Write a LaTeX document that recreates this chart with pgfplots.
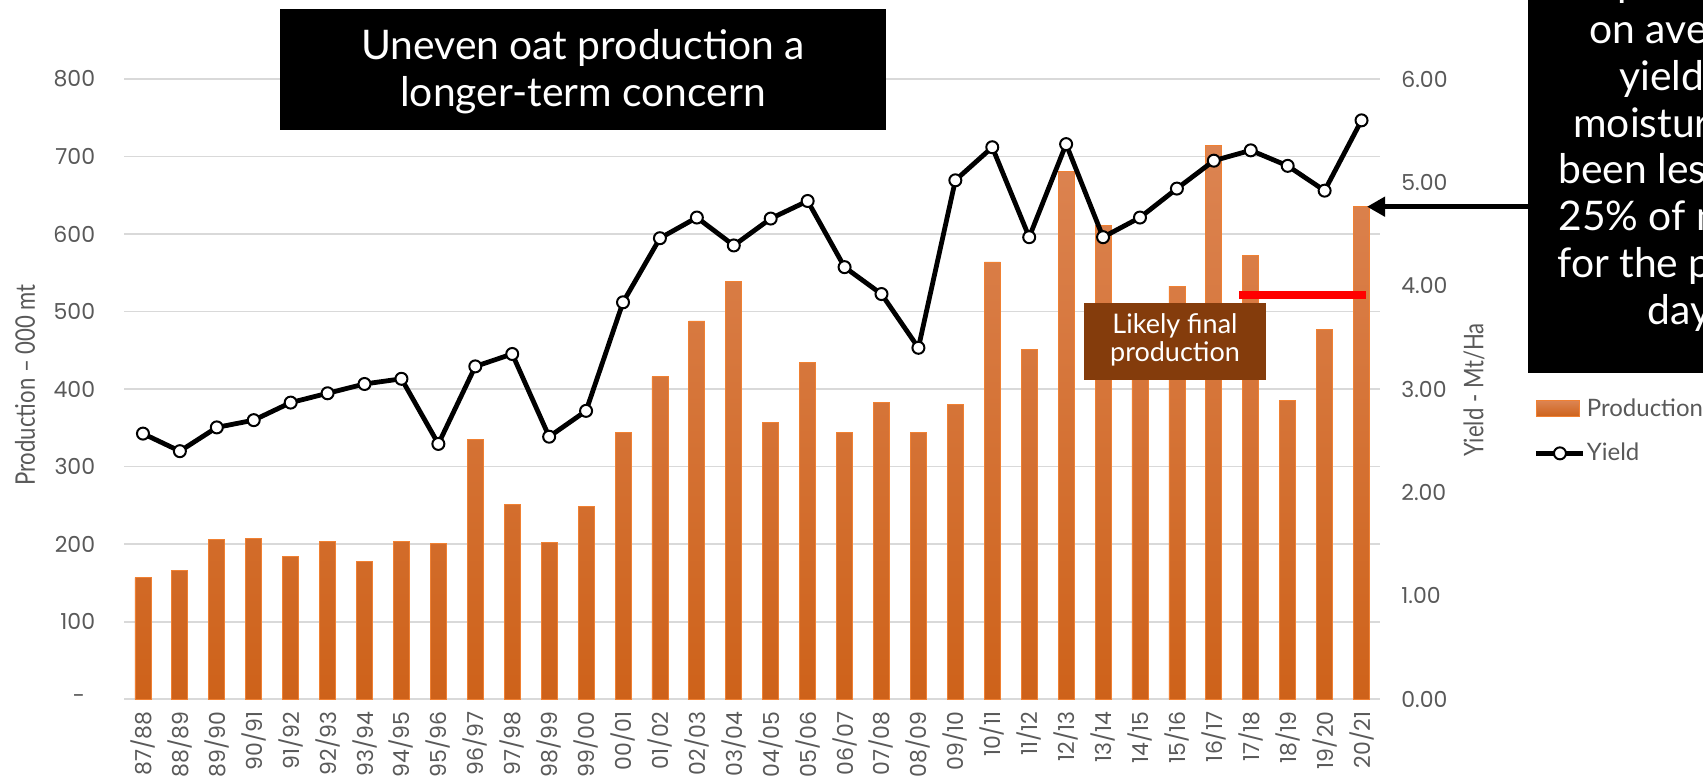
\documentclass[border=0pt]{standalone}
\usepackage{fontspec}
\usepackage{pgfplots}
\usepackage{pgfplotstable}
\pgfplotsset{compat=1.18}
\usetikzlibrary{arrows.meta}
\setmainfont{Lato}
\newfontfamily\tickfont{Poppins}
\newfontfamily\condfont[FakeStretch=0.82]{Lato}

\definecolor{txtgray}{HTML}{595959}
\definecolor{gridgray}{HTML}{D9D9D9}
\definecolor{bartop}{RGB}{220,132,82}
\definecolor{barbot}{RGB}{206,98,26}
\definecolor{baredge}{RGB}{240,128,50}
\definecolor{boxbrown}{HTML}{843C0C}

% season index, production (000 mt), yield (Mt/Ha)
\pgfplotstableread{
idx prod yield
0  157 2.57
1  166 2.40
2  206 2.63
3  208 2.70
4  184 2.87
5  204 2.96
6  178 3.05
7  203 3.10
8  201 2.47
9  335 3.22
10 251 3.34
11 202 2.54
12 249 2.79
13 344 3.84
14 416 4.46
15 488 4.66
16 539 4.39
17 357 4.65
18 435 4.82
19 344 4.18
20 383 3.92
21 344 3.40
22 380 5.02
23 564 5.34
24 451 4.47
25 681 5.37
26 611 4.47
27 480 4.66
28 533 4.94
29 714 5.21
30 572 5.31
31 385 5.16
32 477 4.92
33 636 5.60
}\oats

\pgfplotsset{
  oatbase/.style={
    at={(0pt,0pt)}, anchor=south west,
    scale only axis, width=627.75pt, height=310.15pt,
    xmin=-0.5, xmax=33.5,
    axis line style={draw=none},
    major tick length=0pt,
    tick label style={font=\tickfont\fontsize{11}{13}\selectfont, text=txtgray, inner sep=0pt},
    label style={font=\condfont\fontsize{13.5}{15}\selectfont, text=txtgray},
  }
}

\begin{document}
\begin{tikzpicture}
\begin{axis}[
  oatbase,
  ymin=0, ymax=800,
  ytick={0,100,...,800},
  yticklabels={{-\kern5pt},100,200,300,400,500,600,700,800},
  yticklabel style={anchor=east, xshift=-14.5pt},
  xtick={0,...,33},
  xticklabels={87/88,88/89,89/90,90/91,91/92,92/93,93/94,94/95,95/96,96/97,97/98,98/99,99/00,00/01,01/02,02/03,03/04,04/05,05/06,06/07,07/08,08/09,09/10,10/11,11/12,12/13,13/14,14/15,15/16,16/17,17/18,18/19,19/20,20/21},
  xticklabel style={yshift=-5.9pt, rotate=90, anchor=east},
  ymajorgrids, grid style={gridgray, line width=0.8pt},
  ylabel={Production – 000 mt},
  ylabel style={at={(axis description cs:-0.0793,0.5067)}, anchor=center, rotate=0},
]
\addplot[ybar, bar width=8pt, draw=baredge, line width=0.4pt,
  top color=bartop, bottom color=barbot] table[x=idx, y=prod]{\oats};
\addplot[red, line width=4.15pt, no marks] coordinates {(29.69,521) (33.13,521)};
\end{axis}

\begin{axis}[
  oatbase,
  ymin=0, ymax=6,
  axis x line=none, axis y line*=right,
  ytick={0,1,...,6},
  yticklabels={0.00,1.00,2.00,3.00,4.00,5.00,6.00},
  yticklabel style={anchor=west, xshift=10.5pt},
  ylabel={Yield - Mt/Ha},
  ylabel style={at={(axis description cs:1.0749,0.4986)}, anchor=center, rotate=0},
  legend style={draw=none, fill=none, at={(axis description cs:1.1176,0.4325)}, anchor=west,
    font=\fontsize{12}{14}\selectfont, text=txtgray, row sep=8pt,
    cells={anchor=west}, nodes={inner xsep=0.5pt}},
]
\addlegendimage{legend image code/.code={
  \shade[top color=bartop, bottom color=barbot, draw=baredge, line width=0.4pt] (0pt,-4pt) rectangle (21.5pt,4pt);}}
\addlegendentry{Production}
\addplot[black, line width=2.4pt, mark=*, mark size=3pt,
  mark options={fill=white, draw=black, line width=1pt},
  legend image code/.code={
    \draw[black, line width=2.4pt] (0pt,0pt) -- (23.5pt,0pt);
    \draw[black, fill=white, line width=1pt] (11.75pt,0pt) circle (3pt);}
  ] table[x=idx, y=yield]{\oats};
\addlegendentry{Yield}
\end{axis}

% title box
\fill[black] (77.75pt,284.65pt) rectangle (380.75pt,345.15pt);
\node[anchor=base, text=white, inner sep=0pt, font=\fontsize{20.4}{24}\selectfont] at (229.25pt,319.9pt) {Uneven oat production a};
\node[anchor=base, text=white, inner sep=0pt, font=\fontsize{20.4}{24}\selectfont] at (229.25pt,296.45pt) {longer-term concern};

% likely final production label
\fill[boxbrown] (479.75pt,159.65pt) rectangle (570.75pt,198pt);
\node[anchor=base, text=white, inner sep=0pt, font=\fontsize{13.5}{15}\selectfont] at (525.25pt,183pt) {Likely final};
\node[anchor=base, text=white, inner sep=0pt, font=\fontsize{13.5}{15}\selectfont] at (525.25pt,168.8pt) {production};

% arrow to the latest bar
\draw[black, line width=2.5pt, -{Triangle[length=9pt, width=9.5pt]}] (702pt,246.3pt) -- (621.25pt,246.3pt);

% side note box, cut by the right edge
\begin{scope}
\clip (701.75pt,163.15pt) rectangle (789.25pt,349.65pt);
\fill[black] (701.75pt,163.15pt) rectangle (800pt,360pt);
\begin{scope}[every node/.style={anchor=base west, text=white, inner sep=0pt, font=\fontsize{20.4}{24}\selectfont}]
\node at (698.25pt,351.45pt) {Final production based};
\node at (732.25pt,328pt) {on average};
\node at (747.25pt,304.55pt) {yields, soil};
\node at (724.25pt,281.1pt) {moisture has};
\node at (716.75pt,257.65pt) {been less than};
\node at (716.75pt,234.2pt) {25\% of normal};
\node at (716.25pt,210.75pt) {for the past 90};
\node at (761.25pt,187.3pt) {days.};
\end{scope}
\end{scope}

\pgfresetboundingbox
\useasboundingbox (-62.25pt,-40.85pt) rectangle (789.25pt,349.65pt);
\end{tikzpicture}
\end{document}
